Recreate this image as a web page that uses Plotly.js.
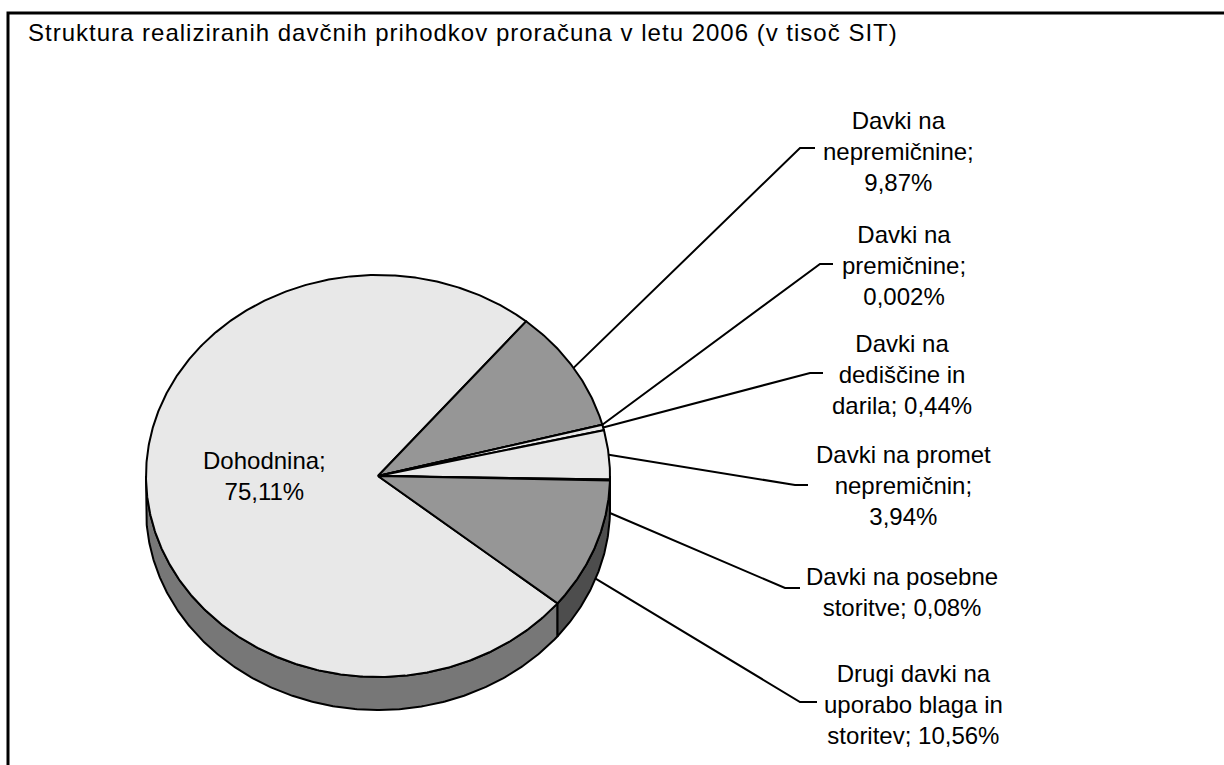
<!DOCTYPE html>
<html>
<head>
<meta charset="utf-8">
<script src="https://cdn.plot.ly/plotly-3.0.1.min.js"></script>
<style>
  html, body { margin: 0; padding: 0; background: #fff; }
  #chart { width: 1224px; height: 765px; }
  .gtitle { letter-spacing: 1px; }
</style>
</head>
<body>
<div id="chart"></div>
<script>
// ---------- data ----------
const categories = [
  'Dohodnina',
  'Davki na nepremičnine',
  'Davki na premičnine',
  'Davki na dediščine in darila',
  'Davki na promet nepremičnin',
  'Davki na posebne storitve',
  'Drugi davki na uporabo blaga in storitev'
];
const shares = [75.11, 9.87, 0.002, 0.44, 3.94, 0.08, 10.56];
const shareLabels = ['75,11%', '9,87%', '0,002%', '0,44%', '3,94%', '0,08%', '10,56%'];
const labelTexts = [
  'Dohodnina;<br>75,11%',
  'Davki na<br>nepremičnine;<br>9,87%',
  'Davki na<br>premičnine;<br>0,002%',
  'Davki na<br>dediščine in<br>darila; 0,44%',
  'Davki na promet<br>nepremičnin;<br>3,94%',
  'Davki na posebne<br>storitve; 0,08%',
  'Drugi davki na<br>uporabo blaga in<br>storitev; 10,56%'
];
const titleText = 'Struktura realiziranih davčnih prihodkov proračuna v letu 2006 (v tisoč SIT)';

// ---------- style / layout constants ----------
const W = 1224, H = 765;
const CX = 378, CY = 476, RX = 232, RY = 201, DEPTH = 33;
const START = 129.3;               // first slice starts here (deg, clockwise from 12 o'clock)
const topColors  = ['#e8e8e8', '#969696', '#969696', '#e8e8e8', '#e8e8e8', '#969696', '#969696'];
const sideColors = ['#777777', '#4d4d4d', '#4d4d4d', '#777777', '#777777', '#4d4d4d', '#4d4d4d'];
// label placement: [text center x, text center y, elbow x, elbow y, end x]
const labelPos = [
  [264, 476, null, null, null],
  [898, 151, 800, 148, 815],
  [904, 265, 820, 264, 833],
  [902, 374, 810, 373, 823],
  [903, 485, 795, 485, 808],
  [902, 592, 785, 588, 800],
  [913, 704, 800, 702, 817]
];

function pt(theta, dy) {
  const r = theta * Math.PI / 180;
  return [CX + RX * Math.sin(r), CY - RY * Math.cos(r) + (dy || 0)];
}
function arc(a1, a2, dy) {
  const n = Math.max(2, Math.ceil(Math.abs(a2 - a1) / 0.5));
  const xs = [], ys = [];
  for (let i = 0; i <= n; i++) {
    const p = pt(a1 + (a2 - a1) * i / n, dy);
    xs.push(p[0]); ys.push(p[1]);
  }
  return [xs, ys];
}

const total = shares.reduce((a, b) => a + b, 0);
const spans = [];
let acc = START;
shares.forEach(v => {
  const a1 = acc, a2 = acc + v / total * 360;
  spans.push([a1, a2]);
  acc = a2;
});

const sideTraces = [], topTraces = [];
spans.forEach(([a1, a2], i) => {
  // visible outer wall (front half: 90..270)
  const ranges = [[a1, a2], [a1 - 360, a2 - 360]];
  ranges.forEach(([b1, b2]) => {
    const lo = Math.max(b1, 90), hi = Math.min(b2, 270);
    if (lo < hi) {
      const t = arc(lo, hi, 0), b = arc(hi, lo, DEPTH);
      sideTraces.push({
        type: 'scatter', mode: 'lines', fill: 'toself',
        x: t[0].concat(b[0]).concat([t[0][0]]),
        y: t[1].concat(b[1]).concat([t[1][0]]),
        fillcolor: sideColors[i], line: { color: '#000', width: 2 },
        hoverinfo: 'skip', showlegend: false
      });
    }
  });
  const a = arc(a1, a2, 0);
  topTraces.push({
    type: 'scatter', mode: 'lines', fill: 'toself',
    x: [CX].concat(a[0]).concat([CX]),
    y: [CY].concat(a[1]).concat([CY]),
    fillcolor: topColors[i], line: { color: '#000', width: 2 },
    name: categories[i], text: categories[i] + '; ' + shareLabels[i],
    hoverinfo: 'text', hoveron: 'fills', showlegend: false
  });
});

// leader lines
const lx = [], ly = [];
spans.forEach(([a1, a2], i) => {
  if (labelPos[i][2] === null) return;
  let mid = ((a1 + a2) / 2) % 360;
  const dy = (mid > 90 && mid < 270) ? DEPTH : 0;
  const p = pt(mid, dy);
  lx.push(p[0], labelPos[i][2], labelPos[i][4], null);
  ly.push(p[1], labelPos[i][3], labelPos[i][3], null);
});
const leaderTrace = {
  type: 'scatter', mode: 'lines', x: lx, y: ly,
  line: { color: '#000', width: 2 }, hoverinfo: 'skip', showlegend: false
};

const annotations = labelTexts.map((t, i) => ({
  x: labelPos[i][0], y: labelPos[i][1], xref: 'x', yref: 'y',
  text: t, showarrow: false, align: 'center',
  xanchor: 'center', yanchor: 'middle',
  font: { family: 'Liberation Sans, Arial, sans-serif', size: 24, color: '#000' }
}));

const layout = {
  width: W, height: H,
  margin: { l: 0, r: 0, t: 0, b: 0, pad: 0 },
  paper_bgcolor: '#fff', plot_bgcolor: '#fff',
  title: {
    text: titleText, x: 28 / W, xanchor: 'left', xref: 'paper',
    y: 1 - 33 / H, yanchor: 'middle', yref: 'paper',
    font: { family: 'Liberation Sans, Arial, sans-serif', size: 24, color: '#000' }
  },
  xaxis: { range: [0, W], visible: false, fixedrange: true },
  yaxis: { range: [H, 0], visible: false, fixedrange: true },
  shapes: [{
    type: 'rect', xref: 'x', yref: 'y', x0: 8, y0: 13, x1: W + 20, y1: H + 20,
    line: { color: '#000', width: 3 }, fillcolor: 'rgba(0,0,0,0)', layer: 'below'
  }],
  annotations: annotations,
  showlegend: false
};

Plotly.newPlot('chart', sideTraces.concat(topTraces).concat([leaderTrace]), layout,
  { displayModeBar: false, staticPlot: true });
</script>
</body>
</html>
